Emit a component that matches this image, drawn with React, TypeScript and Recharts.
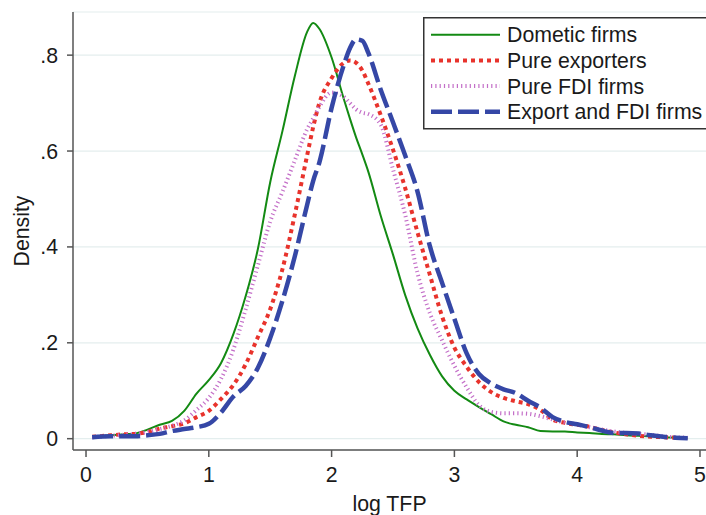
import { LineChart, Line, XAxis, YAxis, CartesianGrid } from 'recharts';

// log TFP grid shared by all four kernel densities
const logTfp = [
  0.05, 0.2, 0.3, 0.4, 0.5, 0.6, 0.7, 0.8, 0.9, 1.0,
  1.1, 1.2, 1.3, 1.4, 1.5, 1.6, 1.7, 1.8, 1.85, 1.9,
  2.0, 2.1, 2.15, 2.2, 2.25, 2.3, 2.4, 2.5, 2.6, 2.7,
  2.8, 2.9, 3.0, 3.1, 3.2, 3.3, 3.4, 3.5, 3.6, 3.7,
  3.8, 3.9, 4.0, 4.1, 4.2, 4.3, 4.4, 4.5, 4.6, 4.7,
  4.8, 4.9,
];

const domestic = [
  0.003, 0.007, 0.009, 0.011, 0.019, 0.029, 0.037, 0.058, 0.094, 0.122,
  0.158, 0.218, 0.297, 0.396, 0.535, 0.642, 0.756, 0.848, 0.867, 0.855,
  0.795, 0.708, 0.667, 0.628, 0.593, 0.556, 0.465, 0.384, 0.299, 0.230,
  0.175, 0.130, 0.100, 0.082, 0.066, 0.051, 0.036, 0.029, 0.024, 0.016,
  0.015, 0.015, 0.013, 0.012, 0.010, 0.009, 0.007, 0.006, 0.005, 0.003,
  0.002, 0.001,
];

const pureExporters = [
  0.004, 0.007, 0.009, 0.010, 0.014, 0.021, 0.026, 0.032, 0.045, 0.058,
  0.083, 0.112, 0.155, 0.212, 0.270, 0.354, 0.467, 0.590, 0.650, 0.700,
  0.752, 0.784, 0.789, 0.784, 0.768, 0.740, 0.675, 0.603, 0.522, 0.430,
  0.342, 0.255, 0.190, 0.150, 0.118, 0.097, 0.085, 0.078, 0.072, 0.060,
  0.040, 0.033, 0.029, 0.025, 0.018, 0.013, 0.009, 0.006, 0.004, 0.003,
  0.002, 0.001,
];

const pureFdi = [
  0.003, 0.006, 0.008, 0.010, 0.014, 0.020, 0.027, 0.038, 0.060, 0.085,
  0.125, 0.186, 0.270, 0.362, 0.453, 0.515, 0.580, 0.645, 0.668, 0.692,
  0.722, 0.713, 0.700, 0.687, 0.680, 0.677, 0.655, 0.562, 0.466, 0.345,
  0.262, 0.205, 0.152, 0.107, 0.070, 0.056, 0.053, 0.053, 0.052, 0.047,
  0.040, 0.034, 0.030, 0.024, 0.019, 0.015, 0.012, 0.010, 0.008, 0.005,
  0.003, 0.002,
];

const exportFdi = [
  0.003, 0.005, 0.005, 0.005, 0.007, 0.010, 0.016, 0.020, 0.024, 0.031,
  0.055, 0.088, 0.110, 0.148, 0.210, 0.288, 0.380, 0.487, 0.538, 0.576,
  0.690, 0.780, 0.815, 0.833, 0.830, 0.804, 0.728, 0.660, 0.590, 0.515,
  0.402, 0.325, 0.250, 0.178, 0.135, 0.115, 0.103, 0.095, 0.079, 0.065,
  0.045, 0.035, 0.030, 0.024, 0.017, 0.012, 0.012, 0.011, 0.007, 0.004,
  0.002, 0.001,
];

const xTicks = [0, 1, 2, 3, 4, 5];
const yTicks = [0, 0.2, 0.4, 0.6, 0.8];

const series = [
  { key: 'domestic', name: 'Dometic firms', color: '#138a13', width: 2, dash: undefined },
  { key: 'pureExporters', name: 'Pure exporters', color: '#e8332c', width: 4, dash: '4 4' },
  { key: 'pureFdi', name: 'Pure FDI firms', color: '#c46fc8', width: 4, dash: '1.2 3.1' },
  { key: 'exportFdi', name: 'Export and FDI firms', color: '#3547a6', width: 4.5, dash: '21 6' },
];

const data = logTfp.map((x, i) => ({
  x,
  domestic: domestic[i],
  pureExporters: pureExporters[i],
  pureFdi: pureFdi[i],
  exportFdi: exportFdi[i],
}));

const font = '"Liberation Sans", Arial, Helvetica, sans-serif';
const axisColor = '#555';
const textColor = '#1a1a1a';
const fontSize = 21.3;

const fmtY = (v: number) => (v === 0 ? '0' : v.toFixed(1).replace(/^0/, ''));

function LegendBox() {
  return (
    <svg
      width={300}
      height={115}
      style={{ position: 'absolute', left: 423, top: 17, overflow: 'visible' }}
    >
      <rect x={0.75} y={0.75} width={296} height={111} fill="#fff" stroke="#333" strokeWidth={1.5} />
      {series.map((s, i) => {
        const y = 17.7 + i * 25.7;
        return (
          <g key={s.key}>
            <line
              x1={8}
              x2={77}
              y1={y}
              y2={y}
              stroke={s.color}
              strokeWidth={s.width}
              strokeDasharray={s.dash}
            />
            <text x={84} y={y + 7.5} fontSize={fontSize} fontFamily={font} fill={textColor}>
              {s.name}
            </text>
          </g>
        );
      })}
    </svg>
  );
}

export default function App() {
  return (
    <div style={{ position: 'absolute', left: 0, top: 0, width: 706, height: 515, background: '#fff' }}>
      <LineChart width={706} height={515} data={data} margin={{ top: 12, right: 0, bottom: 15, left: 13 }}>
        <CartesianGrid vertical={false} stroke="#e4eeee" strokeWidth={1.2} />
        <XAxis
          dataKey="x"
          type="number"
          domain={[-0.106, 5.049]}
          ticks={xTicks}
          allowDataOverflow
          height={50}
          tickSize={7}
          tickMargin={10}
          stroke={axisColor}
          strokeWidth={1.5}
          tick={{ fontSize, fill: textColor, fontFamily: font }}
          label={{ value: 'log TFP', position: 'bottom', offset: -4, fontSize, fill: textColor, fontFamily: font }}
        />
        <YAxis
          type="number"
          domain={[-0.0236, 0.89]}
          ticks={yTicks}
          allowDataOverflow
          width={60}
          tickSize={6}
          tickMargin={9}
          stroke={axisColor}
          strokeWidth={1.5}
          tickFormatter={fmtY}
          tick={{ fontSize, fill: textColor, fontFamily: font }}
          label={{
            value: 'Density',
            angle: -90,
            position: 'insideLeft',
            offset: 8,
            fontSize,
            fill: textColor,
            fontFamily: font,
            style: { textAnchor: 'middle' },
          }}
        />
        {series.map((s) => (
          <Line
            key={s.key}
            type="monotone"
            dataKey={s.key}
            name={s.name}
            stroke={s.color}
            strokeWidth={s.width}
            strokeDasharray={s.dash}
            dot={false}
            activeDot={false}
            isAnimationActive={false}
          />
        ))}
      </LineChart>
      <LegendBox />
    </div>
  );
}
